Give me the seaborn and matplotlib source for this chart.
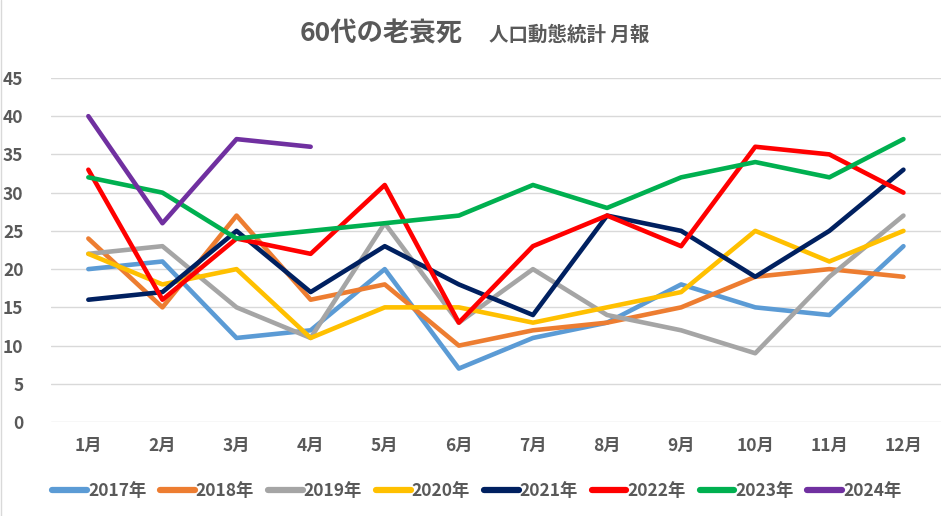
import matplotlib
matplotlib.use("Agg")
import matplotlib.pyplot as plt
import seaborn as sns
import pandas as pd

months = ["1月", "2月", "3月", "4月", "5月", "6月", "7月", "8月", "9月", "10月", "11月", "12月"]
years = ["2017年", "2018年", "2019年", "2020年", "2021年", "2022年", "2023年", "2024年"]
v2017 = [20, 21, 11, 12, 20, 7, 11, 13, 18, 15, 14, 23]
v2018 = [24, 15, 27, 16, 18, 10, 12, 13, 15, 19, 20, 19]
v2019 = [22, 23, 15, 11, 26, 13, 20, 14, 12, 9, 19, 27]
v2020 = [22, 18, 20, 11, 15, 15, 13, 15, 17, 25, 21, 25]
v2021 = [16, 17, 25, 17, 23, 18, 14, 27, 25, 19, 25, 33]
v2022 = [33, 16, 24, 22, 31, 13, 23, 27, 23, 36, 35, 30]
v2023 = [32, 30, 24, 25, 26, 27, 31, 28, 32, 34, 32, 37]
v2024 = [40, 26, 37, 36]
yticks = [0, 5, 10, 15, 20, 25, 30, 35, 40, 45]

series = [v2017, v2018, v2019, v2020, v2021, v2022, v2023, v2024]
colors = ["#5B9BD5", "#ED7D31", "#A5A5A5", "#FFC000", "#002060", "#FF0000", "#00B050", "#7030A0"]

rows = []
for y, vals in zip(years, series):
    for i, v in enumerate(vals):
        rows.append({"month": i, "year": y, "value": v})
df = pd.DataFrame(rows)

sns.set_theme(style="white")
plt.rcParams["font.family"] = ["Noto Sans CJK JP", "DejaVu Sans"]
txt = "#595959"

fig = plt.figure(figsize=(9.5, 5.16), dpi=100)
ax = fig.add_axes([0.054, 0.182, 0.936, 0.667])
sns.lineplot(data=df, x="month", y="value", hue="year", hue_order=years,
             palette=colors, linewidth=3.3, ax=ax, legend=True, sort=False)

ax.set_xlim(-0.5, 11.5)
ax.set_ylim(0, 45)
ax.set_yticks(yticks)
ax.set_xticks(range(12))
ax.set_xticklabels(months)
ax.grid(axis="y", color="#D9D9D9", linewidth=1)
ax.set_axisbelow(True)
for s in ax.spines.values():
    s.set_visible(False)
ax.tick_params(axis="both", length=0, labelsize=12.5, labelcolor=txt)
ax.tick_params(axis="y", pad=20)
ax.tick_params(axis="x", pad=11)
for lab in ax.get_xticklabels() + ax.get_yticklabels():
    lab.set_fontweight("bold")
ax.set_xlabel("")
ax.set_ylabel("")

handles, labels = ax.get_legend_handles_labels()
for h in handles:
    h.set_linewidth(4.5)
    h.set_solid_capstyle("round")
leg = ax.legend(handles, labels, loc="center", bbox_to_anchor=(0.502, 0.048),
                bbox_transform=fig.transFigure, ncol=8, frameon=False,
                handlelength=2.0, handletextpad=0.05, columnspacing=0.8,
                prop={"weight": "bold", "size": 12.5})
for t in leg.get_texts():
    t.set_color(txt)

fig.text(0.315, 0.935, "60代の老衰死", fontsize=19, fontweight="bold", color=txt,
         ha="left", va="center")
fig.text(0.515, 0.932, "人口動態統計 月報", fontsize=14, fontweight="bold", color=txt,
         ha="left", va="center")

fig.add_artist(plt.Line2D([0.001, 0.001], [0, 1], color="#D9D9D9", linewidth=1,
                          transform=fig.transFigure))

fig.savefig("out.png", dpi=100)
